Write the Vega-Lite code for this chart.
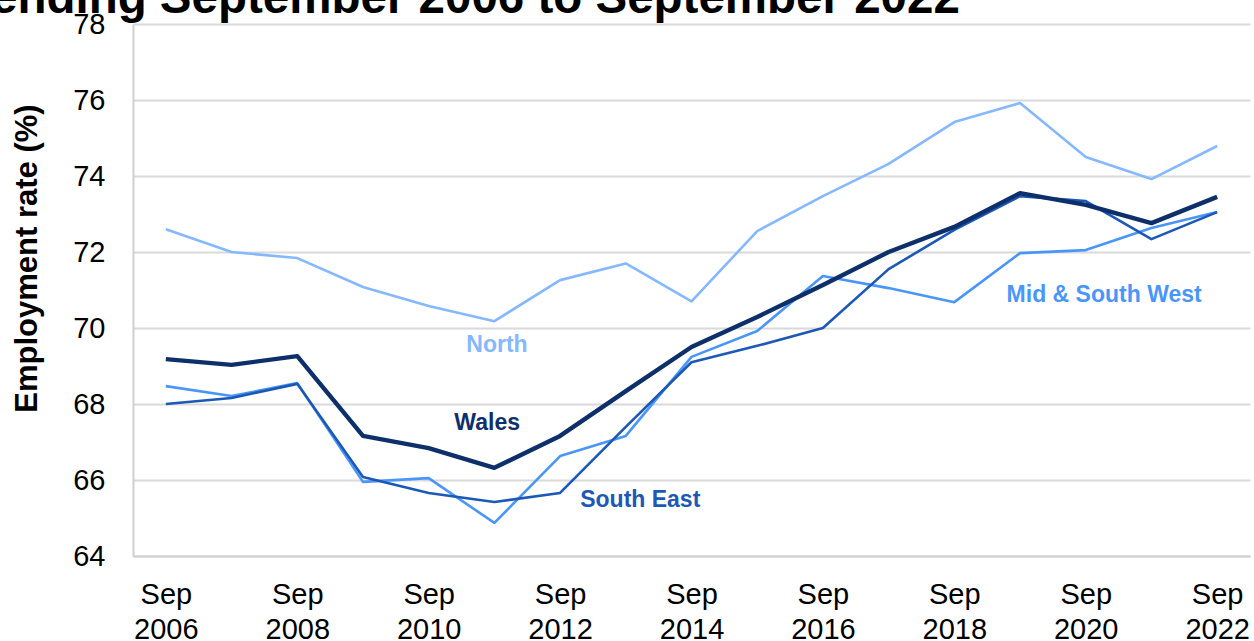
{
  "$schema": "https://vega.github.io/schema/vega-lite/v6.json",
  "width": 1117,
  "height": 532,
  "autosize": "none",
  "padding": {"left": 133, "top": 24, "right": 4, "bottom": 85},
  "background": "white",
  "config": {
    "view": {"stroke": null},
    "font": "Liberation Sans"
  },
  "title": {
    "text": "ending September 2006 to September 2022",
    "anchor": "start",
    "frame": "group",
    "font": "Liberation Sans",
    "fontSize": 47.5,
    "fontWeight": "bold",
    "color": "#000000",
    "baseline": "alphabetic",
    "dx": -142,
    "offset": -50
  },
  "datasets": {
    "series": [
      {"region": "North", "year": 2006, "value": 72.6},
      {"region": "North", "year": 2007, "value": 72.0},
      {"region": "North", "year": 2008, "value": 71.84},
      {"region": "North", "year": 2009, "value": 71.08},
      {"region": "North", "year": 2010, "value": 70.58},
      {"region": "North", "year": 2011, "value": 70.18},
      {"region": "North", "year": 2012, "value": 71.26},
      {"region": "North", "year": 2013, "value": 71.7},
      {"region": "North", "year": 2014, "value": 70.7},
      {"region": "North", "year": 2015, "value": 72.55},
      {"region": "North", "year": 2016, "value": 73.47},
      {"region": "North", "year": 2017, "value": 74.32},
      {"region": "North", "year": 2018, "value": 75.42},
      {"region": "North", "year": 2019, "value": 75.92},
      {"region": "North", "year": 2020, "value": 74.5},
      {"region": "North", "year": 2021, "value": 73.92},
      {"region": "North", "year": 2022, "value": 74.79},
      {"region": "Mid & South West", "year": 2006, "value": 68.47},
      {"region": "Mid & South West", "year": 2007, "value": 68.21},
      {"region": "Mid & South West", "year": 2008, "value": 68.55},
      {"region": "Mid & South West", "year": 2009, "value": 65.95},
      {"region": "Mid & South West", "year": 2010, "value": 66.05},
      {"region": "Mid & South West", "year": 2011, "value": 64.87},
      {"region": "Mid & South West", "year": 2012, "value": 66.63},
      {"region": "Mid & South West", "year": 2013, "value": 67.16},
      {"region": "Mid & South West", "year": 2014, "value": 69.24},
      {"region": "Mid & South West", "year": 2015, "value": 69.92},
      {"region": "Mid & South West", "year": 2016, "value": 71.37},
      {"region": "Mid & South West", "year": 2017, "value": 71.05},
      {"region": "Mid & South West", "year": 2018, "value": 70.68},
      {"region": "Mid & South West", "year": 2019, "value": 71.97},
      {"region": "Mid & South West", "year": 2020, "value": 72.05},
      {"region": "Mid & South West", "year": 2021, "value": 72.63},
      {"region": "Mid & South West", "year": 2022, "value": 73.05},
      {"region": "South East", "year": 2006, "value": 68.0},
      {"region": "South East", "year": 2007, "value": 68.16},
      {"region": "South East", "year": 2008, "value": 68.53},
      {"region": "South East", "year": 2009, "value": 66.08},
      {"region": "South East", "year": 2010, "value": 65.66},
      {"region": "South East", "year": 2011, "value": 65.42},
      {"region": "South East", "year": 2012, "value": 65.66},
      {"region": "South East", "year": 2013, "value": 67.4},
      {"region": "South East", "year": 2014, "value": 69.1},
      {"region": "South East", "year": 2015, "value": 69.53},
      {"region": "South East", "year": 2016, "value": 70.0},
      {"region": "South East", "year": 2017, "value": 71.55},
      {"region": "South East", "year": 2018, "value": 72.58},
      {"region": "South East", "year": 2019, "value": 73.47},
      {"region": "South East", "year": 2020, "value": 73.34},
      {"region": "South East", "year": 2021, "value": 72.34},
      {"region": "South East", "year": 2022, "value": 73.05},
      {"region": "Wales", "year": 2006, "value": 69.18},
      {"region": "Wales", "year": 2007, "value": 69.03},
      {"region": "Wales", "year": 2008, "value": 69.26},
      {"region": "Wales", "year": 2009, "value": 67.16},
      {"region": "Wales", "year": 2010, "value": 66.84},
      {"region": "Wales", "year": 2011, "value": 66.32},
      {"region": "Wales", "year": 2012, "value": 67.16},
      {"region": "Wales", "year": 2013, "value": 68.34},
      {"region": "Wales", "year": 2014, "value": 69.5},
      {"region": "Wales", "year": 2015, "value": 70.29},
      {"region": "Wales", "year": 2016, "value": 71.13},
      {"region": "Wales", "year": 2017, "value": 72.0},
      {"region": "Wales", "year": 2018, "value": 72.66},
      {"region": "Wales", "year": 2019, "value": 73.55},
      {"region": "Wales", "year": 2020, "value": 73.24},
      {"region": "Wales", "year": 2021, "value": 72.76},
      {"region": "Wales", "year": 2022, "value": 73.45}
    ],
    "labels": [
      {"region": "North", "year": 2011.04, "value": 69.55},
      {"region": "Wales", "year": 2010.89, "value": 67.5},
      {"region": "South East", "year": 2013.22, "value": 65.47},
      {"region": "Mid & South West", "year": 2020.28, "value": 70.87}
    ]
  },
  "encoding": {
    "x": {
      "field": "year",
      "type": "quantitative",
      "scale": {"domain": [2005.5, 2022.5], "nice": false, "zero": false},
      "axis": {
        "values": [2006, 2008, 2010, 2012, 2014, 2016, 2018, 2020, 2022],
        "labelExpr": "['Sep', format(datum.value, 'd')]",
        "title": null,
        "grid": false,
        "ticks": false,
        "domain": true,
        "domainColor": "#d0d0d0",
        "domainWidth": 2,
        "labelFont": "Liberation Sans",
        "labelFontSize": 29,
        "labelColor": "#000000",
        "labelLineHeight": 35,
        "labelBaseline": "top",
        "labelPadding": 24,
        "labelFlush": false,
        "labelOverlap": false
      }
    },
    "y": {
      "field": "value",
      "type": "quantitative",
      "scale": {"domain": [64, 78], "nice": false, "zero": false},
      "axis": {
        "values": [64, 66, 68, 70, 72, 74, 76, 78],
        "title": "Employment rate (%)",
        "titleFont": "Liberation Sans",
        "titleFontSize": 31,
        "titleFontWeight": "bold",
        "titleColor": "#000000",
        "titleAngle": -90,
        "titleAlign": "center",
        "titleBaseline": "bottom",
        "titleX": -90,
        "titleY": 234,
        "grid": true,
        "gridColor": "#d9d9d9",
        "gridWidth": 2,
        "ticks": false,
        "domain": true,
        "domainColor": "#d0d0d0",
        "domainWidth": 2,
        "labelFont": "Liberation Sans",
        "labelFontSize": 29,
        "labelColor": "#000000",
        "labelPadding": 28,
        "labelFlush": false
      }
    },
    "color": {
      "field": "region",
      "type": "nominal",
      "scale": {
        "domain": ["North", "Mid & South West", "South East", "Wales"],
        "range": ["#85b8ff", "#4a96f8", "#1c58b5", "#0d306a"]
      },
      "legend": null
    }
  },
  "layer": [
    {
      "data": {"name": "series"},
      "transform": [{"filter": "datum.region != 'Wales'"}],
      "mark": {"type": "line", "strokeJoin": "round", "strokeWidth": 2.6}
    },
    {
      "data": {"name": "series"},
      "transform": [{"filter": "datum.region == 'Wales'"}],
      "mark": {"type": "line", "strokeJoin": "round", "strokeWidth": 4.4}
    },
    {
      "data": {"name": "labels"},
      "mark": {
        "type": "text",
        "font": "Liberation Sans",
        "fontSize": 23,
        "fontWeight": "bold",
        "align": "center",
        "baseline": "middle"
      },
      "encoding": {
        "text": {"field": "region", "type": "nominal"}
      }
    }
  ]
}
